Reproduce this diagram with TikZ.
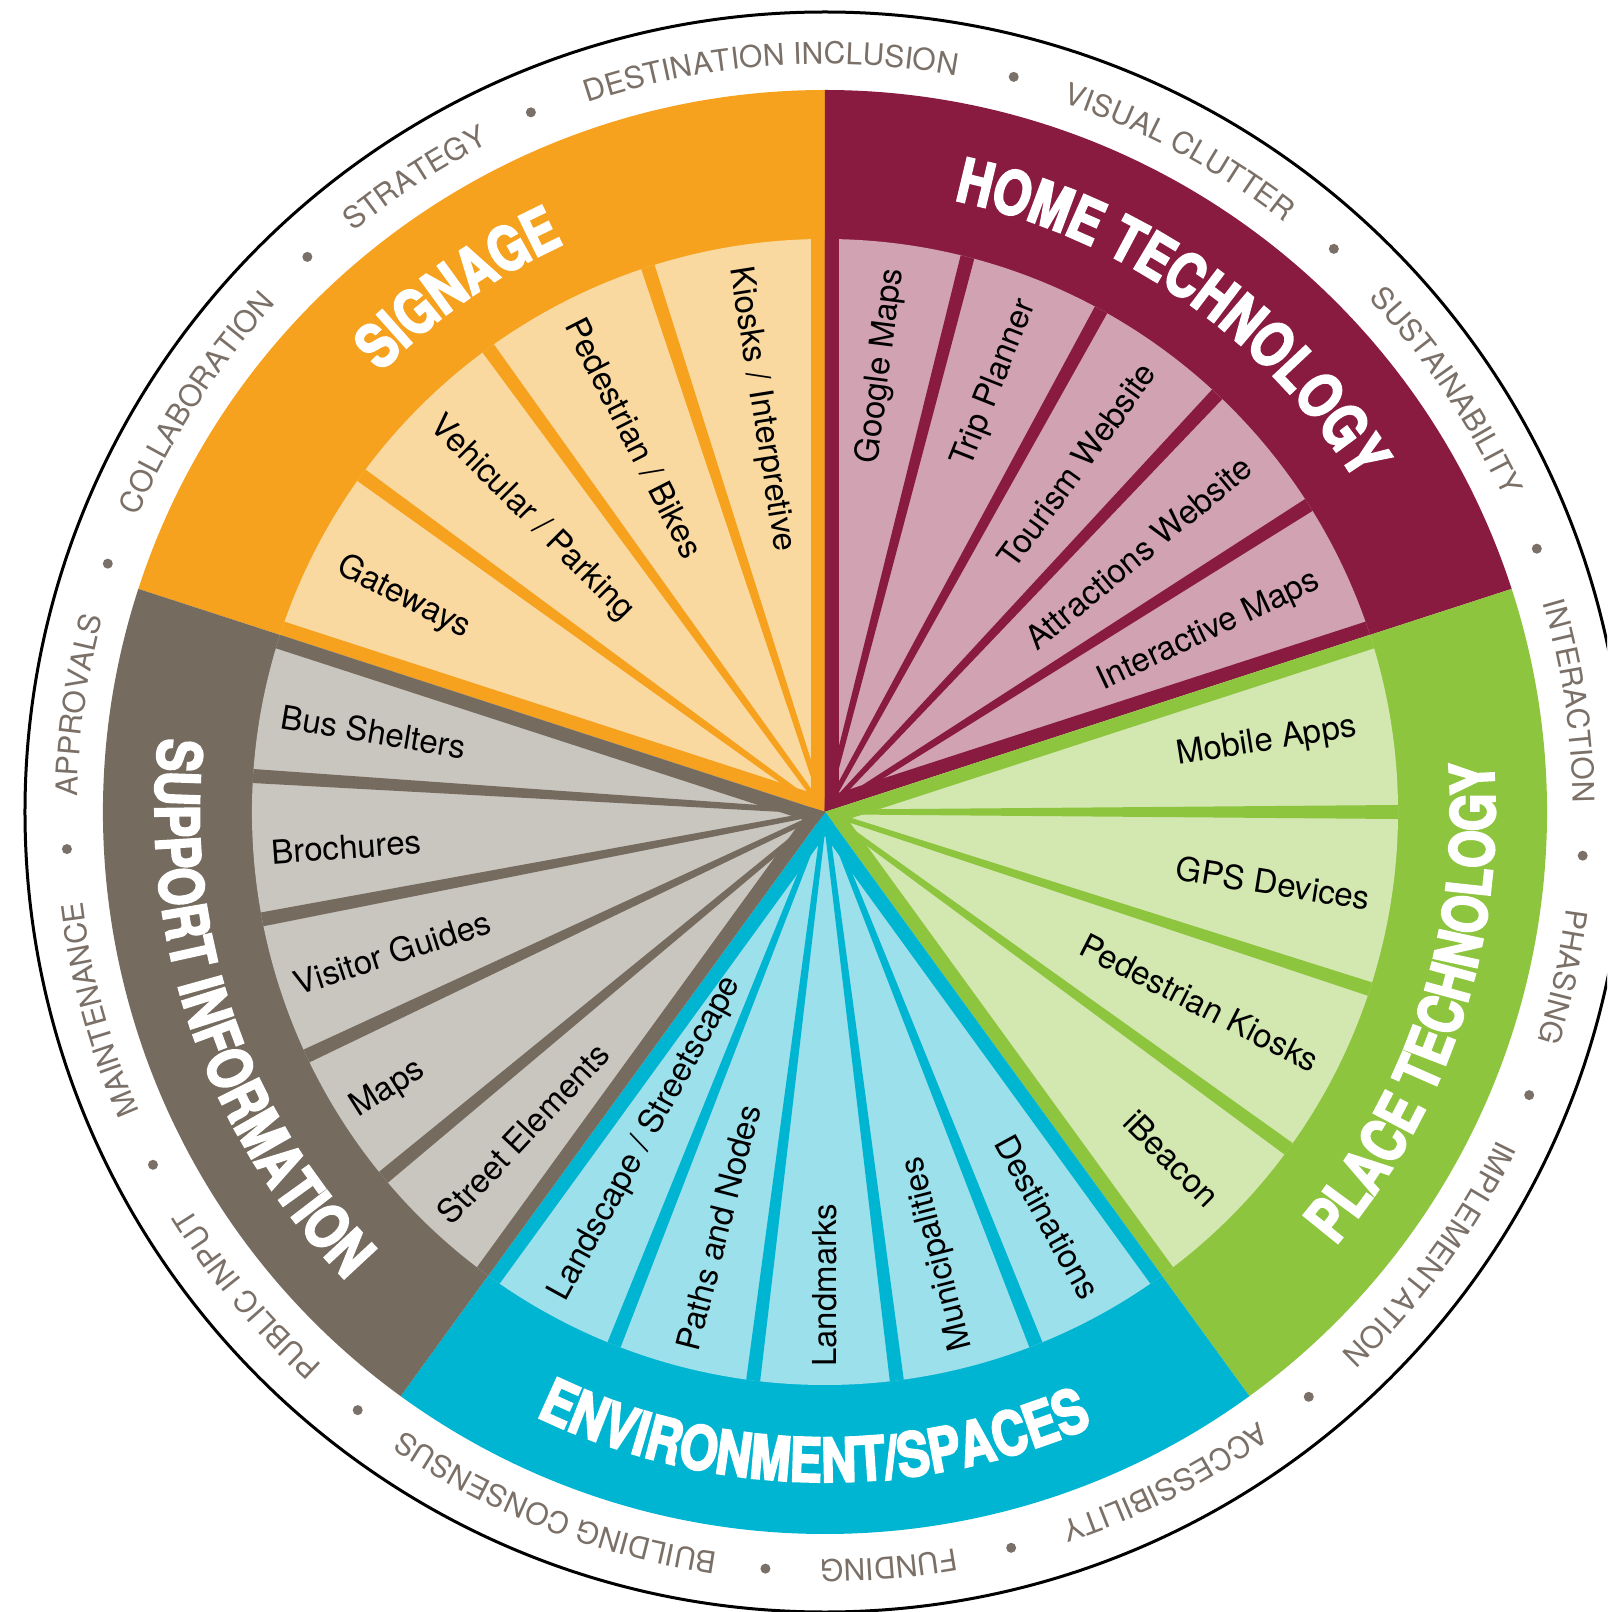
\documentclass[tikz,border=0pt]{standalone}
\usepackage{fontspec}
\setmainfont{TeX Gyre Heros}
\newfontfamily\titlefam[FakeStretch=0.8,FakeBold=3]{TeX Gyre Heros}
\usetikzlibrary{decorations.text}
\definecolor{sigD}{HTML}{F6A21E}
\definecolor{sigL}{HTML}{FAD9A1}
\definecolor{homeD}{HTML}{8A1B40}
\definecolor{homeL}{HTML}{D0A2B2}
\definecolor{placeD}{HTML}{8DC53E}
\definecolor{placeL}{HTML}{D3E7B0}
\definecolor{envD}{HTML}{00B5D1}
\definecolor{envL}{HTML}{9CE0EC}
\definecolor{supD}{HTML}{756B5F}
\definecolor{supL}{HTML}{C9C5BF}
\definecolor{ringgray}{HTML}{7B7067}
\newcommand\titlestyle{\titlefam\bfseries\fontsize{61}{61}\selectfont}
\newcommand\ringstyle{\fontsize{30}{30}\selectfont}
% #1 start, #2 end, #3 internal angles, #4 dark, #5 light
\newcommand\wheelsector[5]{%
  \fill[#4] (0,0) -- (#1:722) arc[start angle=#1, end angle=#2, radius=722] -- cycle;
  \begin{scope}
    \clip (0,0) -- (#1:573) arc[start angle=#1, end angle=#2, radius=573] -- cycle;
    \fill[#5] (0,0) circle[radius=590];
    \draw[#4, line width=28pt] (0,0) -- (#1:620);
    \draw[#4, line width=28pt] (0,0) -- (#2:620);
    \foreach \a in {#3} {
      \fill[#4, rotate=\a] (0,-2.3) -- (620,-7.4) -- (620,7.4) -- (0,2.3) -- cycle;
    }
  \end{scope}}
\newcommand\ringlabel[2]{%
  \path[decorate, decoration={text along path, text={|\ringstyle|#2}, text align=center, text color=ringgray}]
    ({#1+24}:748) arc[start angle={#1+24}, end angle={#1-24}, radius=748];}
\tikzset{
  wlabel/.style={inner sep=0pt, font=\fontsize{33}{39}\selectfont, text=black},
  ringdot/.style={fill=ringgray},
}
\begin{document}
\begin{tikzpicture}[x=1pt, y=1pt]
\useasboundingbox (-825,-800) rectangle (782,812);
\clip (-825,-800) rectangle (782,812);
\fill[white] (-825,-800) rectangle (782,812);
\draw[black, line width=3pt] (0,0) circle[radius=800];

% sectors
\wheelsector{90}{162}{108,126,144}{sigD}{sigL}
\wheelsector{18}{90}{32.4,46.8,61.2,75.6}{homeD}{homeL}
\wheelsector{-54}{18}{-36,-18,0}{placeD}{placeL}
\wheelsector{234}{306}{248.4,262.8,277.2,291.6}{envD}{envL}
\wheelsector{162}{234}{176.4,190.8,205.2,219.6}{supD}{supL}

% titles
\path[decorate, decoration={text along path, text={|\titlestyle|SIGNAGE}, text align=center, text color=white}]
  (160:625) arc[start angle=160, end angle=90, radius=625];
\path[decorate, decoration={text along path, text={|\titlestyle|HOME TECHNOLOGY}, text align=center, text color=white}]
  (100:625) arc[start angle=100, end angle=10, radius=625];
\path[decorate, decoration={text along path, text={|\titlestyle|PLACE TECHNOLOGY}, text align=center, text color=white}]
  (-68:670) arc[start angle=-68, end angle=32, radius=670];
\path[decorate, decoration={text along path, text={|\titlestyle|ENVIRONMENT/SPACES}, text align=center, text color=white}]
  (214:670) arc[start angle=214, end angle=324, radius=670];
\path[decorate, decoration={text along path, text={|\titlestyle|SUPPORT INFORMATION}, text align=center, text color=white}]
  (144:670) arc[start angle=144, end angle=254, radius=670];

% wedge labels: signage
\node[wlabel, anchor=west, rotate=-81] (l1) at (99:552) {Kiosks / Interpretive};
\node[wlabel, anchor=west, rotate=-63] (l2) at (117:552) {Pedestrian / Bikes};
\node[wlabel, anchor=west, rotate=-45] (l3) at (135:552) {Vehicular / Parking};
\node[wlabel, anchor=west, rotate=-27] (l4) at (153:545) {Gateways};
% home technology
\node[wlabel, anchor=east, rotate=82.8] (l5) at (82.8:548) {Google Maps};
\node[wlabel, anchor=east, rotate=68.4] (l6) at (68.4:550) {Trip Planner};
\node[wlabel, anchor=east, rotate=54] (l7) at (54:550) {Tourism Website};
\node[wlabel, anchor=east, rotate=39.6] (l8) at (39.6:548) {Attractions Website};
\node[wlabel, anchor=east, rotate=25.2] (l9) at (25.2:545) {Interactive Maps};
% place technology
\node[wlabel, anchor=east, rotate=9] (l10) at (9:538) {Mobile Apps};
\node[wlabel, anchor=east, rotate=-9] (l11) at (-9:552) {GPS Devices};
\node[wlabel, anchor=east, rotate=-27] (l12) at (-27:552) {Pedestrian Kiosks};
\node[wlabel, anchor=east, rotate=-45] (l13) at (-45:550) {iBeacon};
% environment
\node[wlabel, anchor=west, rotate=61.2] (l14) at (241.2:555) {Landscape / Streetscape};
\node[wlabel, anchor=west, rotate=75.6] (l15) at (255.6:555) {Paths and Nodes};
\node[wlabel, anchor=west, rotate=90] (l16) at (270:555) {Landmarks};
\node[wlabel, anchor=west, rotate=104.4] (l17) at (284.4:555) {Municipalities};
\node[wlabel, anchor=east, rotate=-61.2] (l18) at (298.8:553) {Destinations};
% support information
\node[wlabel, anchor=west, rotate=-9.5] (l19) at (170:552) {Bus Shelters};
\node[wlabel, anchor=west, rotate=4.2] (l20) at (184.2:555) {Brochures};
\node[wlabel, anchor=west, rotate=18] (l21) at (198:558) {Visitor Guides};
\node[wlabel, anchor=west, rotate=32.4] (l22) at (212.4:558) {Maps};
\node[wlabel, anchor=west, rotate=46.8] (l23) at (226.8:558) {Street Elements};

% outer ring labels
\ringlabel{94.2}{DESTINATION INCLUSION}
\ringlabel{61.75}{VISUAL CLUTTER}
\ringlabel{34.1}{SUSTAINABILITY}
\ringlabel{8.5}{INTERACTION}
\ringlabel{-12.6}{PHASING}
\ringlabel{-36.15}{IMPLEMENTATION}
\ringlabel{-63.1}{ACCESSIBILITY}
\ringlabel{-85.15}{FUNDING}
\ringlabel{-111.25}{BUILDING CONSENSUS}
\ringlabel{-140.15}{PUBLIC INPUT}
\ringlabel{-164.75}{MAINTENANCE}
\ringlabel{171.85}{APPROVALS}
\ringlabel{146.95}{COLLABORATION}
\ringlabel{122.9}{STRATEGY}

% ring dots
\foreach \a in {75.6,47.9,20.3,-3.3,-21.9,-50.4,-75.8,-94.5,-128,-152.3,182.8,160.9,133,112.8}
  \fill[ringdot] (\a:759) circle[radius=5];
\end{tikzpicture}
\end{document}
